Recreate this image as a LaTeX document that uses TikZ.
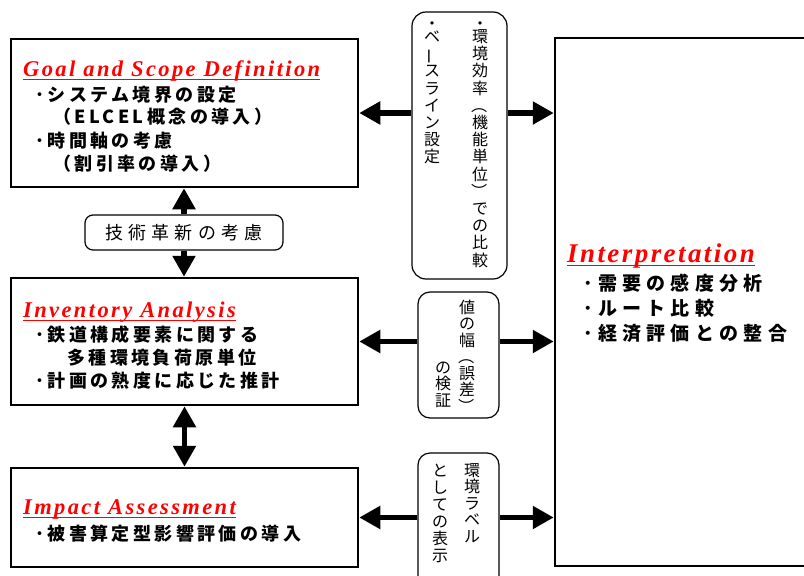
\documentclass[tikz,border=0pt]{standalone}
\usepackage{fontspec}
\usepackage{graphicx}
\setmainfont{Liberation Serif}
\newfontfamily\jp{Noto Sans CJK JP}
\newfontfamily\ttlfont{Liberation Serif}
\usetikzlibrary{arrows.meta}
\newcommand\vparen[1]{\rotatebox[origin=c]{-90}{#1}}
\newcommand\vbar{\rotatebox[origin=c]{90}{ー}}
\newcommand\vst{\rule{0pt}{14pt}}
\begin{document}
\begin{tikzpicture}[x=1pt,y=-1pt,
  box/.style={draw, line width=2.5pt, inner sep=0pt},
  rbox/.style={draw, line width=1.2pt, rounded corners=#1, inner sep=0pt},
  rbox/.default=12pt,
  ttl/.style={anchor=base west, inner sep=0pt, text=red,
    font=\ttlfont\bfseries\itshape\fontsize{22.5}{22.5}\selectfont\addfontfeature{LetterSpace=10.6}},
  ttlbig/.style={anchor=base west, inner sep=0pt, text=red,
    font=\ttlfont\bfseries\itshape\fontsize{27}{27}\selectfont\addfontfeature{LetterSpace=9}},
  ul/.style={red, line width=1.6pt},
  jl/.style={anchor=base west, inner sep=0pt,
    font=\jp\bfseries\fontsize{18}{18}\selectfont\addfontfeature{LetterSpace=19}},
  ji/.style={anchor=base west, inner sep=0pt,
    font=\jp\bfseries\fontsize{19}{19}\selectfont\addfontfeature{LetterSpace=28}},
  vcol/.style={anchor=north, inner sep=0pt, align=center,
    font=\jp\fontsize{16}{#1}\selectfont},
  vcol/.default=17.2,
  arr/.style={line width=5.5pt, -{Triangle[length=21pt,width=22pt]}},
  darr/.style={line width=5.5pt, {Triangle[length=21pt,width=22pt]}-{Triangle[length=21pt,width=22pt]}}
]
\useasboundingbox (0,0) rectangle (804,576);
\clip (0,0) rectangle (804,576);

% main boxes
\node[box, minimum width=347pt, minimum height=148pt] (goal) at (184.5,113) {};
\node[box, minimum width=347pt, minimum height=127pt] (inv) at (184.5,341.5) {};
\node[box, minimum width=347pt, minimum height=99pt] (imp) at (184.5,517.5) {};
\node[box, minimum width=275pt, minimum height=528pt] (interp) at (692.5,302) {};

% middle rounded boxes
\node[rbox=14pt, minimum width=95pt, minimum height=267pt] (mtop) at (459.5,145.5) {};
\node[rbox, minimum width=81pt, minimum height=126pt] (mmid) at (458.5,355) {};
\node[rbox, minimum width=81pt, minimum height=137pt] (mbot) at (458.5,521.5) {};
\node[rbox=8pt, minimum width=198pt, minimum height=35pt,
  font=\jp\fontsize{18}{18}\selectfont\addfontfeature{LetterSpace=28}] (tech) at (184,232.5) {技術革新の考慮};

% Goal and Scope
\node[ttl] (gt) at (23,76) {Goal and Scope Definition};
\draw[ul] ([yshift=-3.5pt]gt.base west) -- ([yshift=-3.5pt]gt.base east);
\node[jl] (g1) at (35,101.5) {･システム境界の設定};
\node[jl] (g2) at (53,123.5) {（ELCEL概念の導入）};
\node[jl] (g3) at (35,147.5) {･時間軸の考慮};
\node[jl] (g4) at (53,170.5) {（割引率の導入）};

% Inventory
\node[ttl] (it) at (23,317) {Inventory Analysis};
\draw[ul] ([yshift=-3.5pt]it.base west) -- ([yshift=-3.5pt]it.base east);
\node[jl] (i1) at (35,341.5) {･鉄道構成要素に関する};
\node[jl] (i2) at (67,364.5) {多種環境負荷原単位};
\node[jl] (i3) at (35,387.5) {･計画の熟度に応じた推計};

% Impact
\node[ttl] (mt) at (23,514) {Impact Assessment};
\draw[ul] ([yshift=-3.5pt]mt.base west) -- ([yshift=-3.5pt]mt.base east);
\node[jl] (m1) at (35,540.5) {･被害算定型影響評価の導入};

% Interpretation
\node[ttlbig] (pt) at (567,262) {Interpretation};
\draw[ul] ([yshift=-3.5pt]pt.base west) -- ([yshift=-3.5pt]pt.base east);
\node[ji] (p1) at (583,290.2) {･需要の感度分析};
\node[ji] (p2) at (583,315.2) {･ルート比較};
\node[ji] (p3) at (583,340.2) {･経済評価との整合};

% vertical texts
\node[vcol] (v1) at (480,15) {\vst・\\[-4pt]環\\境\\効\\率\\\vparen{（}\\機\\能\\単\\位\\\vparen{）}\\で\\の\\比\\較};
\node[vcol] (v2) at (432,15) {\vst・\\[-4pt]ベ\\\vbar\\ス\\ラ\\イ\\ン\\設\\定};
\node[vcol=16.5] (v3) at (467,299) {\vst 値\\の\\幅\\\vparen{（}\\誤\\差\\\vparen{）}};
\node[vcol=16.5] (v4) at (443,359) {\vst の\\検\\証};
\node[vcol=16.5] (v5) at (472,462) {\vst 環\\境\\ラ\\ベ\\ル};
\node[vcol=17] (v6) at (440,462) {\vst と\\し\\て\\の\\表\\示};

% arrows
\draw[arr] (mtop.west |- goal.east) -- (goal.east);
\draw[arr] (mtop.east |- goal.east) -- (interp.west |- goal.east);
\draw[arr] (mmid.west |- inv.east) -- (inv.east);
\draw[arr] (mmid.east |- inv.east) -- (interp.west |- inv.east);
\draw[arr] (mbot.west |- imp.east) -- (imp.east);
\draw[arr] (mbot.east |- imp.east) -- (interp.west |- imp.east);
\draw[arr] (tech.north) -- (tech.north |- goal.south);
\draw[arr] (tech.south) -- (tech.south |- inv.north);
\draw[darr] (inv.south) -- (imp.north);
\end{tikzpicture}
\end{document}
